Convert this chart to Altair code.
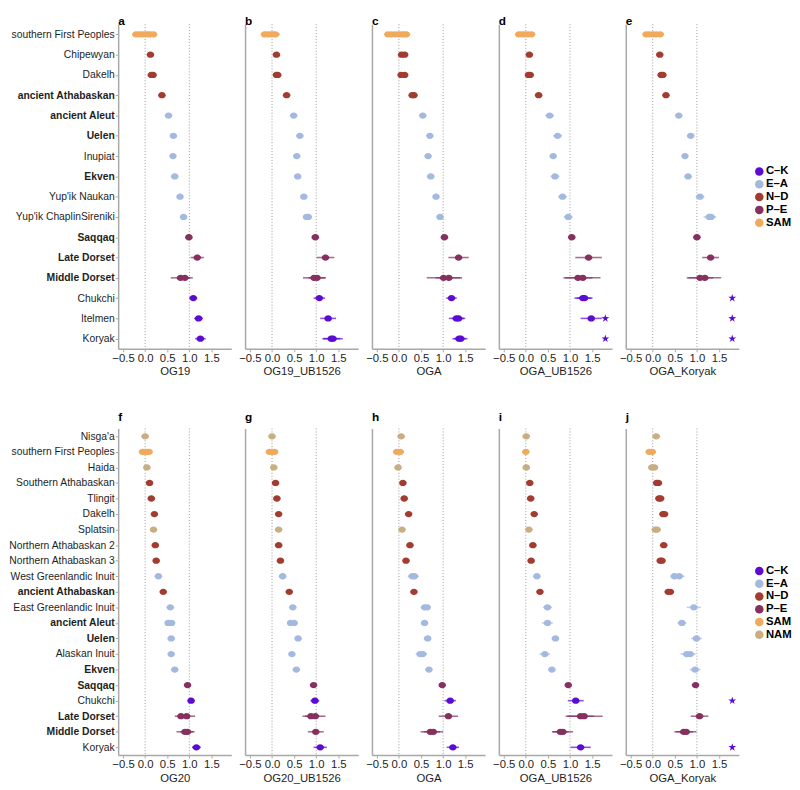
import json
import altair as alt
import pandas as pd

# ---------------- data ----------------
SFP = "southern First Peoples"

COLOR_KEYS = ["C–K", "E–A", "N–D", "P–E", "SAM", "NAM"]
COLOR_VALUES = ["#5c0bd3", "#a4b9e0", "#a23b30", "#85305f", "#f0aa5d", "#c9ae82"]
TOP_LEGEND = ["C–K", "E–A", "N–D", "P–E", "SAM"]
BOT_LEGEND = ["C–K", "E–A", "N–D", "P–E", "SAM", "NAM"]

BOLD_POPS = ["ancient Athabaskan", "ancient Aleut", "Uelen", "Ekven", "Saqqaq",
             "Late Dorset", "Middle Dorset"]

TOP_POPS = [SFP, "Chipewyan", "Dakelh", "ancient Athabaskan", "ancient Aleut", "Uelen",
            "Inupiat", "Ekven", "Yup'ik Naukan", "Yup'ik ChaplinSireniki", "Saqqaq",
            "Late Dorset", "Middle Dorset", "Chukchi", "Itelmen", "Koryak"]
TOP_GROUPS = ["SAM", "N–D", "N–D", "N–D", "E–A", "E–A", "E–A", "E–A", "E–A", "E–A",
              "P–E", "P–E", "P–E", "C–K", "C–K", "C–K"]

BOT_POPS = ["Nisga'a", SFP, "Haida", "Southern Athabaskan", "Tlingit", "Dakelh", "Splatsin",
            "Northern Athabaskan 2", "Northern Athabaskan 3", "West Greenlandic Inuit",
            "ancient Athabaskan", "East Greenlandic Inuit", "ancient Aleut", "Uelen",
            "Alaskan Inuit", "Ekven", "Saqqaq", "Chukchi", "Late Dorset", "Middle Dorset",
            "Koryak"]
BOT_GROUPS = ["NAM", "SAM", "NAM", "N–D", "N–D", "N–D", "NAM", "N–D", "N–D", "E–A",
              "N–D", "E–A", "E–A", "E–A", "E–A", "E–A", "P–E", "C–K", "P–E", "P–E", "C–K"]

TOP_LETTERS = ["a", "b", "c", "d", "e"]
TOP_TITLES = ["OG19", "OG19_UB1526", "OGA", "OGA_UB1526", "OGA_Koryak"]
BOT_LETTERS = ["f", "g", "h", "i", "j"]
BOT_TITLES = ["OG20", "OG20_UB1526", "OGA", "OGA_UB1526", "OGA_Koryak"]

# (population, estimate[, half-width of interval])
EST_A = [(SFP, -0.21), (SFP, -0.14), (SFP, -0.07), (SFP, 0.0), (SFP, 0.06), (SFP, 0.12), (SFP, 0.19, 0.05),
         ("Chipewyan", 0.12), ("Dakelh", 0.14), ("Dakelh", 0.18), ("ancient Athabaskan", 0.38),
         ("ancient Aleut", 0.53), ("Uelen", 0.64), ("Inupiat", 0.63), ("Ekven", 0.67),
         ("Yup'ik Naukan", 0.79), ("Yup'ik ChaplinSireniki", 0.87), ("Saqqaq", 0.99),
         ("Late Dorset", 1.18, 0.15), ("Middle Dorset", 0.8, 0.22), ("Middle Dorset", 0.9, 0.18),
         ("Chukchi", 1.09, 0.09), ("Itelmen", 1.21, 0.1), ("Koryak", 1.25, 0.12)]
EST_B = [(SFP, -0.17), (SFP, -0.1), (SFP, -0.03), (SFP, 0.03), (SFP, 0.08, 0.1),
         ("Chipewyan", 0.1), ("Dakelh", 0.1), ("Dakelh", 0.13), ("ancient Athabaskan", 0.33),
         ("ancient Aleut", 0.49), ("Uelen", 0.63), ("Inupiat", 0.56), ("Ekven", 0.58),
         ("Yup'ik Naukan", 0.72), ("Yup'ik ChaplinSireniki", 0.78), ("Yup'ik ChaplinSireniki", 0.82),
         ("Saqqaq", 0.98), ("Late Dorset", 1.21, 0.2), ("Middle Dorset", 0.95, 0.25),
         ("Middle Dorset", 1.02, 0.2), ("Chukchi", 1.07, 0.13), ("Itelmen", 1.27, 0.18),
         ("Koryak", 1.34, 0.2), ("Koryak", 1.38, 0.22)]
EST_C = [(SFP, -0.25), (SFP, -0.17), (SFP, -0.09), (SFP, -0.01), (SFP, 0.06), (SFP, 0.12), (SFP, 0.17),
         ("Chipewyan", 0.06), ("Chipewyan", 0.13), ("Dakelh", 0.05), ("Dakelh", 0.13),
         ("ancient Athabaskan", 0.3), ("ancient Athabaskan", 0.34), ("ancient Aleut", 0.54),
         ("Uelen", 0.7), ("Inupiat", 0.66), ("Ekven", 0.72), ("Yup'ik Naukan", 0.84),
         ("Yup'ik ChaplinSireniki", 0.93), ("Saqqaq", 1.03), ("Late Dorset", 1.35, 0.23),
         ("Middle Dorset", 1.01, 0.38), ("Middle Dorset", 1.13, 0.3), ("Chukchi", 1.19, 0.12),
         ("Itelmen", 1.3, 0.17), ("Itelmen", 1.35, 0.15), ("Koryak", 1.36, 0.15), ("Koryak", 1.4, 0.15)]
EST_D = [(SFP, -0.16), (SFP, -0.09), (SFP, -0.02), (SFP, 0.05), (SFP, 0.13),
         ("Chipewyan", 0.08), ("Dakelh", 0.06), ("Dakelh", 0.1), ("ancient Athabaskan", 0.29),
         ("ancient Aleut", 0.54, 0.1), ("Uelen", 0.72, 0.1), ("Inupiat", 0.62), ("Ekven", 0.66, 0.1),
         ("Yup'ik Naukan", 0.83, 0.1), ("Yup'ik ChaplinSireniki", 0.96, 0.1), ("Saqqaq", 1.04),
         ("Late Dorset", 1.42, 0.3), ("Middle Dorset", 1.18, 0.33), ("Middle Dorset", 1.29, 0.4),
         ("Chukchi", 1.29, 0.19), ("Chukchi", 1.33, 0.18), ("Itelmen", 1.48, 0.24)]
EST_E = [(SFP, -0.15), (SFP, -0.08), (SFP, 0.0), (SFP, 0.08), (SFP, 0.17),
         ("Chipewyan", 0.16), ("Dakelh", 0.19), ("Dakelh", 0.23), ("ancient Athabaskan", 0.3),
         ("ancient Aleut", 0.59), ("Uelen", 0.86, 0.08), ("Inupiat", 0.73), ("Ekven", 0.8),
         ("Yup'ik Naukan", 1.07, 0.1), ("Yup'ik ChaplinSireniki", 1.28, 0.13),
         ("Yup'ik ChaplinSireniki", 1.32, 0.12), ("Saqqaq", 1.0), ("Late Dorset", 1.31, 0.19),
         ("Middle Dorset", 1.07, 0.3), ("Middle Dorset", 1.18, 0.37)]

EST_F = [("Nisga'a", 0.0), (SFP, -0.06), (SFP, 0.0), (SFP, 0.05), (SFP, 0.09), ("Haida", 0.04),
         ("Southern Athabaskan", 0.1), ("Tlingit", 0.14), ("Dakelh", 0.21), ("Splatsin", 0.19),
         ("Northern Athabaskan 2", 0.23), ("Northern Athabaskan 3", 0.25),
         ("West Greenlandic Inuit", 0.3), ("ancient Athabaskan", 0.41),
         ("East Greenlandic Inuit", 0.57), ("ancient Aleut", 0.52), ("ancient Aleut", 0.6),
         ("Uelen", 0.59), ("Alaskan Inuit", 0.59), ("Ekven", 0.67), ("Saqqaq", 0.96),
         ("Chukchi", 1.04, 0.07), ("Late Dorset", 0.81, 0.14), ("Late Dorset", 0.94, 0.19),
         ("Middle Dorset", 0.9, 0.19), ("Middle Dorset", 0.96, 0.16), ("Koryak", 1.16, 0.1)]
EST_G = [("Nisga'a", 0.0), (SFP, -0.06), (SFP, 0.0), (SFP, 0.06), ("Haida", 0.04),
         ("Southern Athabaskan", 0.08), ("Tlingit", 0.11), ("Dakelh", 0.15), ("Splatsin", 0.15),
         ("Northern Athabaskan 2", 0.15), ("Northern Athabaskan 3", 0.19),
         ("West Greenlandic Inuit", 0.24), ("ancient Athabaskan", 0.39),
         ("East Greenlandic Inuit", 0.47), ("ancient Aleut", 0.42), ("ancient Aleut", 0.5),
         ("Uelen", 0.59), ("Alaskan Inuit", 0.45), ("Ekven", 0.55), ("Saqqaq", 0.94),
         ("Chukchi", 0.97, 0.1), ("Late Dorset", 0.88, 0.19), ("Late Dorset", 0.98, 0.23),
         ("Middle Dorset", 0.99, 0.18), ("Koryak", 1.09, 0.15)]
EST_H = [("Nisga'a", 0.05), (SFP, -0.05), (SFP, 0.03), ("Haida", -0.02),
         ("Southern Athabaskan", 0.09), ("Tlingit", 0.12), ("Dakelh", 0.22), ("Splatsin", 0.07),
         ("Northern Athabaskan 2", 0.25), ("Northern Athabaskan 3", 0.16, 0.05),
         ("West Greenlandic Inuit", 0.3, 0.1), ("West Greenlandic Inuit", 0.35, 0.1),
         ("ancient Athabaskan", 0.34, 0.07), ("East Greenlandic Inuit", 0.58),
         ("East Greenlandic Inuit", 0.64), ("ancient Aleut", 0.58), ("Uelen", 0.65),
         ("Alaskan Inuit", 0.48, 0.1), ("Alaskan Inuit", 0.54, 0.1), ("Ekven", 0.68, 0.05),
         ("Saqqaq", 0.98), ("Chukchi", 1.16, 0.13), ("Late Dorset", 1.12, 0.22),
         ("Middle Dorset", 0.71, 0.22), ("Middle Dorset", 0.78, 0.22), ("Koryak", 1.22, 0.14)]
EST_I = [("Nisga'a", 0.01), (SFP, 0.0), ("Haida", 0.01), ("Southern Athabaskan", 0.09),
         ("Tlingit", 0.11), ("Dakelh", 0.19), ("Splatsin", 0.07), ("Northern Athabaskan 2", 0.16),
         ("Northern Athabaskan 3", 0.12, 0.05), ("West Greenlandic Inuit", 0.25),
         ("ancient Athabaskan", 0.32, 0.06), ("East Greenlandic Inuit", 0.49, 0.1),
         ("ancient Aleut", 0.49, 0.12), ("Uelen", 0.67, 0.08), ("Alaskan Inuit", 0.43, 0.12),
         ("Ekven", 0.59, 0.08), ("Saqqaq", 0.96), ("Chukchi", 1.13, 0.18),
         ("Late Dorset", 1.24, 0.3), ("Late Dorset", 1.32, 0.42), ("Middle Dorset", 0.78, 0.19),
         ("Middle Dorset", 0.84, 0.23), ("Koryak", 1.24, 0.23)]
EST_J = [("Nisga'a", 0.08), (SFP, -0.08), (SFP, -0.01), ("Haida", -0.02), ("Haida", 0.04),
         ("Southern Athabaskan", 0.09), ("Southern Athabaskan", 0.13), ("Tlingit", 0.14),
         ("Tlingit", 0.18), ("Dakelh", 0.23), ("Dakelh", 0.27), ("Splatsin", 0.06),
         ("Splatsin", 0.1), ("Northern Athabaskan 2", 0.25), ("Northern Athabaskan 3", 0.17),
         ("Northern Athabaskan 3", 0.21), ("West Greenlandic Inuit", 0.49, 0.09),
         ("West Greenlandic Inuit", 0.6, 0.12), ("ancient Athabaskan", 0.35, 0.07),
         ("ancient Athabaskan", 0.4, 0.05), ("East Greenlandic Inuit", 0.93, 0.16),
         ("ancient Aleut", 0.66, 0.1), ("Uelen", 0.99, 0.12), ("Alaskan Inuit", 0.77, 0.14),
         ("Alaskan Inuit", 0.85, 0.12), ("Ekven", 0.96, 0.12), ("Saqqaq", 0.97),
         ("Late Dorset", 1.06, 0.2), ("Middle Dorset", 0.7, 0.21), ("Middle Dorset", 0.76, 0.23)]

STARS = {"d": ["Itelmen", "Koryak"], "e": ["Chukchi", "Itelmen", "Koryak"],
         "j": ["Chukchi", "Koryak"]}
STAR_X = 1.8
REF_LINES = [0.0, 1.0]
X_TICKS = [-0.5, 0.0, 0.5, 1.0, 1.5]
X_DOMAIN = [-0.61, 1.95]

TOP_EST = [EST_A, EST_B, EST_C, EST_D, EST_E]
BOT_EST = [EST_F, EST_G, EST_H, EST_I, EST_J]

# ---------------- styling ----------------
FONT = "Liberation Sans"
COLORS = dict(zip(COLOR_KEYS, COLOR_VALUES))
ELLIPSE = "M-1.15,0 A1.15,0.95 0 1,0 1.15,0 A1.15,0.95 0 1,0 -1.15,0 Z"
STAR = ("M0,-1 L0.22,-0.31 L0.951,-0.309 L0.36,0.12 L0.588,0.809 L0,0.38 "
        "L-0.588,0.809 L-0.36,0.12 L-0.951,-0.309 L-0.22,-0.31 Z")
PANEL_W = 115
AXIS_GRAY = "#a8a8a8"
TEXT = "#1e1e1e"
BOLD_EXPR = "indexof(%s, datum.value) >= 0 ? 'bold' : 'normal'" % json.dumps(BOLD_POPS)
LEGEND_X = 646


def make_legend(y):
    return alt.Legend(title=None, orient="none", legendX=LEGEND_X, legendY=y,
                      labelFont=FONT, labelFontSize=11.5, labelFontWeight="bold",
                      labelColor="black", symbolType="circle", symbolSize=75,
                      symbolStrokeWidth=0, symbolOpacity=1,
                      rowPadding=0, labelOffset=1, padding=0)


def make_panel(letter, xtitle, pops, groups, entries, legend_domain, first, top_row, height):
    gmap = dict(zip(pops, groups))
    rows = []
    for e in entries:
        err = e[2] if len(e) > 2 else 0.02
        rows.append({"pop": e[0], "grp": gmap[e[0]], "est": e[1],
                     "lo": e[1] - err, "hi": e[1] + err})
    df = pd.DataFrame(rows)

    xs = alt.Scale(domain=X_DOMAIN, nice=False, zero=False)
    ys = alt.Scale(type="point", domain=pops, padding=0.5)
    cs = alt.Scale(domain=legend_domain, range=[COLORS[g] for g in legend_domain])
    xaxis = alt.Axis(values=X_TICKS, format=".1f", title=xtitle, grid=False,
                     labelFlush=False, labelFont=FONT, labelFontSize=11.5, labelColor=TEXT,
                     titleFont=FONT, titleFontSize=11.5, titleFontWeight="normal",
                     titleColor=TEXT, titlePadding=2, tickSize=3, tickColor=AXIS_GRAY,
                     domainColor=AXIS_GRAY, domainWidth=1.5, labelPadding=1)
    if first:
        yaxis = alt.Axis(title=None, grid=False, labelFont=FONT, labelFontSize=10.5,
                         labelColor=TEXT, labelFontWeight=alt.ExprRef(expr=BOLD_EXPR),
                         tickSize=3, tickColor=AXIS_GRAY, domainColor=AXIS_GRAY,
                         domainWidth=1.5, labelPadding=1, labelLimit=200)
    else:
        yaxis = alt.Axis(title=None, grid=False, labels=False, ticks=False,
                         domainColor=AXIS_GRAY, domainWidth=1.5)

    legend = make_legend(144 if top_row else 550)
    # whiskers carry no legend setting, so the dots' explicit legend is the one kept
    if top_row:
        line_enc = {"color": alt.Color("grp:N", scale=cs)}
        dot_enc = {"color": alt.Color("grp:N", scale=cs, legend=legend)}
    else:
        line_enc = {"stroke": alt.Stroke("grp:N", scale=cs)}
        dot_enc = {"fill": alt.Fill("grp:N", scale=cs, legend=legend)}

    ref = alt.Chart(pd.DataFrame({"v": REF_LINES})).mark_rule(
        color="#9a9a9a", strokeDash=[1, 2], strokeWidth=1
    ).encode(x=alt.X("v:Q", scale=xs, axis=xaxis))

    whisk = alt.Chart(df).mark_rule(strokeWidth=1.6, strokeOpacity=0.7).encode(
        x=alt.X("lo:Q", scale=xs, axis=xaxis),
        x2="hi:Q",
        y=alt.Y("pop:N", scale=ys, axis=yaxis),
        **line_enc,
    )

    dots = alt.Chart(df).mark_point(shape=ELLIPSE, filled=True, size=45, opacity=1,
                                    fillOpacity=1, strokeWidth=0).encode(
        x=alt.X("est:Q", scale=xs, axis=xaxis),
        y=alt.Y("pop:N", scale=ys, axis=yaxis),
        **dot_enc,
    )
    layers = [ref, whisk, dots]

    if letter in STARS:
        sdf = pd.DataFrame({"pop": STARS[letter], "sx": [STAR_X] * len(STARS[letter])})
        stars = alt.Chart(sdf).mark_point(shape=STAR, filled=True, size=70, opacity=1,
                                          strokeWidth=0, color=COLORS["C–K"]).encode(
            x=alt.X("sx:Q", scale=xs, axis=xaxis),
            y=alt.Y("pop:N", scale=ys, axis=yaxis),
        )
        layers.append(stars)

    return alt.layer(*layers).properties(
        width=PANEL_W, height=height,
        title=alt.TitleParams(letter, anchor="start", frame="group", font=FONT,
                              fontSize=12, fontWeight="bold", color="black",
                              offset=-4 if top_row else 4),
    )


top_panels = [make_panel(TOP_LETTERS[k], TOP_TITLES[k], TOP_POPS, TOP_GROUPS, TOP_EST[k],
                         TOP_LEGEND, k == 0, True, 330) for k in range(5)]
bot_panels = [make_panel(BOT_LETTERS[k], BOT_TITLES[k], BOT_POPS, BOT_GROUPS, BOT_EST[k],
                         BOT_LEGEND, k == 0, False, 332) for k in range(5)]

top = alt.hconcat(*top_panels, spacing=7)
bottom = alt.hconcat(*bot_panels, spacing=7)

chart = alt.vconcat(top, bottom, spacing=34).configure(
    font=FONT, padding=0).configure_view(stroke=None)

chart.save("out.html", embed_options={"renderer": "svg", "actions": False})
